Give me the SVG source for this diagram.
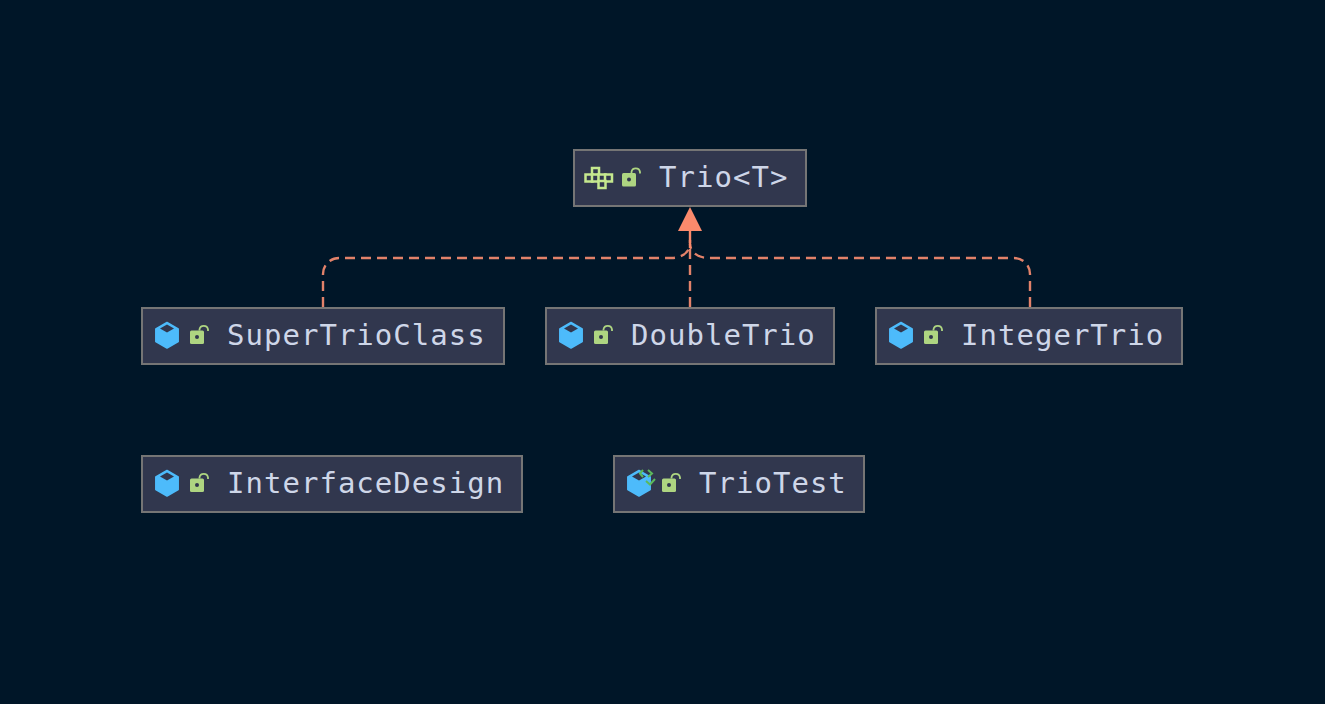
<svg xmlns="http://www.w3.org/2000/svg" width="1325" height="704" viewBox="0 0 1325 704">
<style>
.box{fill:#31374e;stroke:#757575;stroke-width:2}
.lbl{font-family:"DejaVu Sans Mono",monospace;font-size:29px;letter-spacing:1.02px;fill:#ced6e8}
.edge{fill:none;stroke:#e2826a;stroke-width:2.400;stroke-dasharray:10 6}
.cube{fill:#4dbbfb;stroke:#4dbbfb;stroke-width:1.500;stroke-linejoin:round}
.cubetop{fill:#31374e}
.lock{fill:#aed581}
.arc{fill:none;stroke:#aed581;stroke-width:1.800}
.keyhole{fill:#31374e}
.iface{fill:#31374e;stroke:#c5e88e;stroke-width:2.500}
.tick{fill:none;stroke:#5cb85c;stroke-width:2}
</style>
<defs>
<g id="classIcon">
<path class="cube" d="M0-11.500 11.200-5V7.500L0 14-11.200 7.500V-5Z"/>
<path class="cubetop" d="M0-9.500 7-5.500 0-1.500-7-5.500Z"/>
</g>
<g id="lockIcon">
<rect class="lock" x="-7" y="-3.500" width="14" height="13.500" rx="1.500"/>
<path class="arc" d="M2.500-3.500V-4.500A4.300 4.300 0 0 1 11-4.500V-3"/>
<circle class="keyhole" cx="0" cy="3" r="2"/>
</g>
</defs>
<rect width="1325" height="704" fill="#001628"/>
<g id="connectors">
<path class="edge" d="M323 307V274A16 16 0 0 1 339 258H672A18 14 0 0 0 690 244"/>
<path class="edge" d="M690 307V240"/>
<path class="edge" d="M1030 307V274A16 16 0 0 0 1014 258H708A18 14 0 0 1 690 244"/>
<path d="M690 231V248" fill="none" stroke="#fb8a6c" stroke-width="2.400"/>
<path d="M690 207 702 231H678Z" fill="#fb8a6c"/>
</g>
<g id="trio">
<rect class="box" x="574" y="150" width="232" height="56"/>
<g class="iface">
<rect x="592" y="168" width="7" height="7"/>
<rect x="585.500" y="174.500" width="7" height="7"/>
<rect x="592" y="174.500" width="7" height="7"/>
<rect x="598.500" y="174.500" width="7" height="7"/>
<rect x="605" y="174.500" width="7" height="7"/>
<rect x="598.500" y="181" width="7" height="7"/>
</g>
<use href="#lockIcon" x="629" y="176.500"/>
<text class="lbl" x="659" y="187">Trio&lt;T&gt;</text>
</g>
<g id="superTrioClass">
<rect class="box" x="142" y="308" width="362" height="56"/>
<use href="#classIcon" x="167" y="334"/>
<use href="#lockIcon" x="197" y="334"/>
<text class="lbl" x="227" y="345">SuperTrioClass</text>
</g>
<g id="doubleTrio">
<rect class="box" x="546" y="308" width="288" height="56"/>
<use href="#classIcon" x="571" y="334"/>
<use href="#lockIcon" x="601" y="334"/>
<text class="lbl" x="631" y="345">DoubleTrio</text>
</g>
<g id="integerTrio">
<rect class="box" x="876" y="308" width="306" height="56"/>
<use href="#classIcon" x="901" y="334"/>
<use href="#lockIcon" x="931" y="334"/>
<text class="lbl" x="961" y="345">IntegerTrio</text>
</g>
<g id="interfaceDesign">
<rect class="box" x="142" y="456" width="380" height="56"/>
<use href="#classIcon" x="167" y="482"/>
<use href="#lockIcon" x="197" y="482"/>
<text class="lbl" x="227" y="493">InterfaceDesign</text>
</g>
<g id="trioTest">
<rect class="box" x="614" y="456" width="250" height="56"/>
<use href="#classIcon" x="639" y="482"/>
<path class="tick" d="M643 470 640 473.500 643 477M648 470 652 473.500 648 477M646 481 650 484.500 655 479"/>
<use href="#lockIcon" x="669" y="482"/>
<text class="lbl" x="699" y="493">TrioTest</text>
</g>
</svg>
